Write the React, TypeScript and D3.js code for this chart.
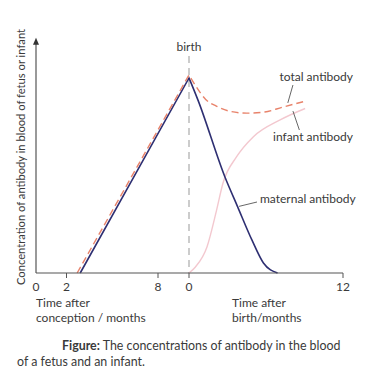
import React from "react";
import * as d3 from "d3";

// time axis: months since conception (birth = 9)
const BIRTH = 9;
const xDomain = [0, 8, 9, 21];
const tickValues = [0, 2, 8, 9, 21];
const tickLabels = ["0", "2", "8", "0", "12"];

// maternal antibody
const maternalT = [2.9, 9, 9.7, 11.8, 12.8, 13.9, 14.8, 15.9];
const maternalV = [0, 83.7, 74.2, 41.2, 28.3, 14.2, 4.3, 0];

// total antibody
const totalT = [2.7, 9, 9.5, 10.3, 11.1, 12.1, 13.5, 14.9, 16.3, 18.1];
const totalV = [0, 85, 80.5, 74.5, 71.7, 69.5, 68.6, 69.1, 71.2, 73.8];

// infant antibody
const infantT = [9, 9.5, 10.4, 11.15, 11.65, 12.7, 14.0, 16.1, 18.05];
const infantV = [0, 2.6, 11.2, 27, 38.6, 49.8, 58.4, 65.7, 70.6];

const FONT = "Lato, 'Open Sans', sans-serif";
const TEXT = "#3a3a3a";

export default function App() {
  const W = 375, H = 370;
  const x = d3.scaleLinear().domain(xDomain).range([36, 158, 189, 343]);
  const y = d3.scaleLinear().domain([0, 100]).range([273, 40]);

  const mk = (ts: number[], vs: number[]) =>
    d3
      .line<number>()
      .x((_, i) => x(ts[i]))
      .y((v) => y(v))
      .curve(d3.curveMonotoneX)(vs) || "";

  const maternalPre = d3.line<number>().x((_, i) => x(maternalT[i])).y((v) => y(v))(maternalV.slice(0, 2)) || "";
  const maternalPost = mk(maternalT.slice(1), maternalV.slice(1));
  const totalPre = d3.line<number>().x((_, i) => x(totalT[i])).y((v) => y(v))(totalV.slice(0, 2)) || "";
  const totalPost = mk(totalT.slice(1), totalV.slice(1));
  const infant = mk(infantT, infantV);

  const axisY = y(0);
  const FS = 12;

  return (
    <svg width={W} height={H} style={{ position: "absolute", left: 0, top: 0 }} fontFamily={FONT}>
      <rect width={W} height={H} fill="#fff" />
      {/* birth line */}
      <line x1={x(BIRTH)} x2={x(BIRTH)} y1={56} y2={axisY} stroke="#999" strokeWidth={1} strokeDasharray="7,5" />
      <text x={x(BIRTH)} y={51} textAnchor="middle" fontSize={FS} fill={TEXT}>birth</text>

      {/* curves */}
      <path d={infant} fill="none" stroke="#f3c8cf" strokeWidth={1.4} />
      <path d={maternalPre + maternalPost.replace(/^M/, "L")} fill="none" stroke="#2e2f72" strokeWidth={1.6} />
      <path d={totalPre + totalPost.replace(/^M/, "L")} fill="none" stroke="#e8836b" strokeWidth={1.4} strokeDasharray="7,4" />

      {/* axes */}
      <line x1={x(0)} x2={x(21)} y1={axisY} y2={axisY} stroke="#555" strokeWidth={1.2} />
      <line x1={x(0)} x2={x(0)} y1={axisY} y2={y(99)} stroke="#555" strokeWidth={1.2} />
      <path d={`M${x(0) - 3},${y(98)} L${x(0)},${y(101)} L${x(0) + 3},${y(98)} Z`} fill="#333" />
      {tickValues.map((t, i) => (
        <g key={i}>
          {i > 0 && <line x1={x(t)} x2={x(t)} y1={axisY} y2={axisY + 5} stroke="#555" strokeWidth={1} />}
          <text x={x(t)} y={291} textAnchor="middle" fontSize={FS} fill={TEXT}>{tickLabels[i]}</text>
        </g>
      ))}

      <text transform={`translate(25,157) rotate(-90)`} textAnchor="middle" fontSize={11.2} fill={TEXT}>
        Concentration of antibody in blood of fetus or infant
      </text>

      <text x={36} y={307} fontSize={FS} fill={TEXT}>Time after</text>
      <text x={36} y={322} fontSize={FS} fill={TEXT}>conception / months</text>
      <text x={232} y={307} fontSize={FS} fill={TEXT}>Time after</text>
      <text x={232} y={322} fontSize={FS} fill={TEXT}>birth/months</text>

      {/* annotations */}
      <text x={353} y={81} textAnchor="end" fontSize={FS} fill={TEXT}>total antibody</text>
      <line x1={x(17.1)} x2={x(16.7)} y1={85} y2={y(73)} stroke="#555" strokeWidth={0.9} />
      <text x={353} y={141} textAnchor="end" fontSize={FS} fill={TEXT}>infant antibody</text>
      <line x1={x(17.1)} x2={x(17.6)} y1={y(69.5)} y2={130} stroke="#555" strokeWidth={0.9} />
      <text x={260} y={203} fontSize={FS} fill={TEXT}>maternal antibody</text>
      <line x1={x(12.9)} x2={257} y1={y(28.6)} y2={202} stroke="#555" strokeWidth={0.9} />

      {/* caption */}
      <text x={62} y={350} fontSize={12.4} fill={TEXT}>
        <tspan fontWeight="bold">Figure:</tspan> The concentrations of antibody in the blood
      </text>
      <text x={17} y={366} fontSize={12.4} fill={TEXT}>of a fetus and an infant.</text>
    </svg>
  );
}
